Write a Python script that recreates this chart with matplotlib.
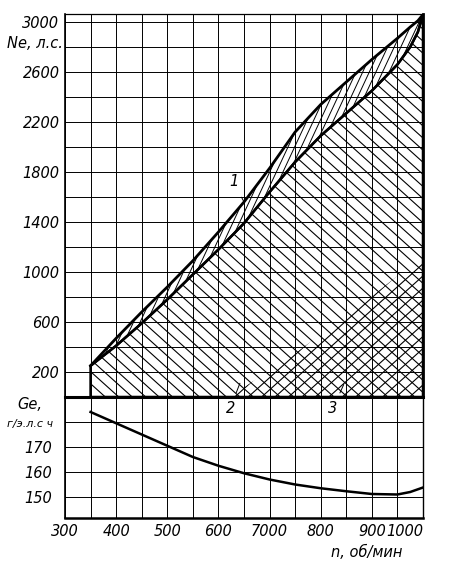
import numpy as np
import matplotlib
matplotlib.use('Agg')
import matplotlib.pyplot as plt
from matplotlib.patches import Polygon
from matplotlib.collections import LineCollection

plt.rcParams['font.family'] = ['DejaVu Sans']
plt.rcParams['font.style'] = 'italic'
plt.rcParams['font.size'] = 10.5

# Ne, hp vs n, rpm (curve 1 = upper bound, lower bound of zone 2)
n_pts = [350, 400, 450, 500, 550, 600, 650, 700, 750, 800, 850, 900, 950, 975, 990, 1000]
ne_upper = [250, 470, 680, 880, 1090, 1320, 1560, 1830, 2120, 2340, 2520, 2700, 2870, 2960, 3010, 3060]
ne_lower = [250, 410, 590, 780, 980, 1180, 1390, 1640, 1880, 2090, 2270, 2450, 2660, 2800, 2920, 3060]

# zone 3 (cross hatched) upper boundary
n_zone3 = [620, 700, 760, 850, 910, 960, 1000]
ne_zone3 = [0, 210, 380, 650, 840, 1000, 1100]

# specific fuel consumption Ge, g/hp*h
n_ge = [350, 400, 450, 500, 550, 600, 650, 700, 750, 800, 850, 900, 950, 975, 1000]
ge = [184, 179.5, 175, 170.5, 166, 162.5, 159.5, 157, 155, 153.5, 152.3, 151.2, 151, 152, 153.8]

x_ticks = [300, 400, 500, 600, 700, 800, 900, 1000]
x_labels = ['300', '400', '500', '600', '7000', '800', '900', '1000']


def hatch_lines(ax, patch, angle, step, lw):
    # parallel lines at a fixed pixel angle, clipped to the patch
    bb = ax.get_window_extent()
    w, h = bb.width, bb.height
    a = np.radians(angle)
    d = np.array([np.cos(a), np.sin(a)])
    nv = np.array([-np.sin(a), np.cos(a)])
    corners = np.array([[0, 0], [w, 0], [0, h], [w, h]])
    proj = corners @ nv
    L = w + h
    segs = []
    for off in np.arange(proj.min(), proj.max(), step):
        p = off * nv
        p0 = p - L * d
        p1 = p + L * d
        segs.append([(p0[0] / w, p0[1] / h), (p1[0] / w, p1[1] / h)])
    lc = LineCollection(segs, colors='k', linewidths=lw, transform=ax.transAxes)
    ax.add_collection(lc, autolim=False)
    lc.set_clip_path(patch)


fig = plt.figure(figsize=(4.5, 5.7), dpi=100)
ax1 = fig.add_axes([65 / 450, 1 - 397 / 570, 358 / 450, 383 / 570])
ax2 = fig.add_axes([65 / 450, 1 - 518 / 570, 358 / 450, 121 / 570])
ax2.patch.set_alpha(0)

ax1.set_xlim(300, 1000)
ax1.set_ylim(0, 3064)
ax2.set_xlim(300, 1000)
ax2.set_ylim(190 - 121 / 2.5, 190)

# grids
for ax in (ax1, ax2):
    ax.set_xticks(np.arange(300, 1001, 50))
    ax.grid(True, color='k', lw=0.7)
    ax.set_axisbelow(True)
    ax.tick_params(length=0)

ax1.set_yticks(np.arange(0, 3001, 200))
ax1.set_yticklabels([str(v) if v % 400 == 200 else '' for v in range(0, 3001, 200)])
ax1.tick_params(axis='x', labelbottom=False)
ax1.tick_params(axis='y', pad=4)

ax2.set_yticks([150, 160, 170, 180])
ax2.set_yticklabels(['150', '160', '170', ''])
ax2.set_xticks(np.arange(300, 1001, 50))
ax2.set_xticklabels([x_labels[x_ticks.index(v)] if v in x_ticks else '' for v in range(300, 1001, 50)])
ax2.tick_params(axis='x', pad=4)
ax2.tick_params(axis='y', pad=9)
for lab in ax2.get_xticklabels():
    if lab.get_text() == '1000':
        lab.set_ha('right')

# spines
ax1.spines['top'].set_linewidth(0.9)
ax1.spines['left'].set_linewidth(1.2)
ax1.spines['right'].set_linewidth(2.0)
ax1.spines['bottom'].set_linewidth(2.2)
ax2.spines['top'].set_visible(False)
ax2.spines['left'].set_linewidth(1.2)
ax2.spines['right'].set_linewidth(1.0)
ax2.spines['bottom'].set_linewidth(1.8)

# zone 2: under the lower curve
zone2 = Polygon(list(zip(n_pts, ne_lower)) + [(1000, 0), (350, 0)], closed=True,
                fill=False, edgecolor='k', lw=1.8)
ax1.add_patch(zone2)
hatch_lines(ax1, zone2, -42, 9.0, 0.8)

# zone 3: cross hatch
zone3 = Polygon(list(zip(n_zone3, ne_zone3)) + [(1000, 0)], closed=True,
                fill=False, edgecolor='none')
ax1.add_patch(zone3)
hatch_lines(ax1, zone3, 42, 9.0, 0.8)

# band between the two curves
band = Polygon(list(zip(n_pts, ne_upper)) + list(zip(n_pts[::-1], ne_lower[::-1])),
               closed=True, fill=False, edgecolor='none')
ax1.add_patch(band)
hatch_lines(ax1, band, 65, 6.0, 0.7)

ax1.plot(n_pts, ne_upper, color='k', lw=2.0)
ax1.plot(n_pts, ne_lower, color='k', lw=1.8)

ax2.plot(n_ge, ge, color='k', lw=1.8)

# labels
ax1.text(296, 2832, 'Ne, л.с.', ha='right', va='center')
ax2.text(255, 187.2, 'Ge,', ha='right', va='center')
ax2.text(276, 179.2, 'г/э.л.с ч', ha='right', va='center', fontsize=8)
fig.text(367 / 450, 1 - 552 / 570, 'n, об/мин', ha='center', va='center', fontsize=10.5)

arrow = dict(arrowstyle='-', lw=0.7, shrinkA=4, shrinkB=0, color='k')
ax1.annotate('1', xy=(650, 1560), xytext=(630, 1720), ha='center', va='center',
             arrowprops=arrow)
ax1.annotate('2', xy=(642, 110), xytext=(623, -90), ha='center', va='center',
             arrowprops=arrow, annotation_clip=False)
ax1.annotate('3', xy=(845, 100), xytext=(824, -90), ha='center', va='center',
             arrowprops=arrow, annotation_clip=False)

fig.savefig('out.png', dpi=100)
